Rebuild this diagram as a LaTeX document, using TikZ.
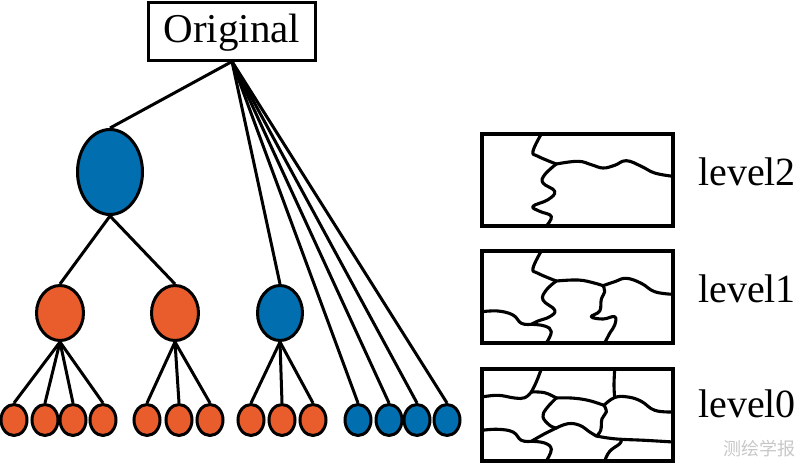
\documentclass[tikz,border=0pt]{standalone}
\usepackage{fontspec}
\setmainfont{Liberation Serif}
\newfontfamily\cjk{Noto Sans CJK SC}
\usetikzlibrary{shapes.geometric}
\definecolor{nodeblue}{RGB}{0,110,175}
\definecolor{nodeorange}{RGB}{233,93,45}
\begin{document}
\begin{tikzpicture}[x=1pt,y=-1pt,
  nd/.style={ellipse, draw=black, line width=3pt, inner sep=0pt},
  bignode/.style={nd, minimum width=65pt, minimum height=85pt},
  midnode/.style={nd, minimum width=47pt, minimum height=55pt},
  leafnode/.style={nd, minimum width=26pt, minimum height=31pt},
  edgeline/.style={line width=3pt},
  panelframe/.style={draw, line width=3.4pt},
  crack/.style={line width=3.1pt, line join=round, line cap=round},
  lvl/.style={font=\fontsize{40}{44}\selectfont, anchor=base west, inner sep=0pt},
  wm/.style={font=\cjk\fontsize{18}{20}\selectfont, text=black!22, inner sep=0pt}]

\useasboundingbox (0,0) rectangle (800,464);

% root box
\node[draw, line width=3pt, minimum width=167pt, minimum height=58pt, inner sep=0pt] (orig) at (232,31) {};
\node[font=\fontsize{41}{44}\selectfont, anchor=base, inner sep=0pt] (origtext) at (232,42) {Original};

% tree nodes
\node[bignode, fill=nodeblue] (b0) at (110,172) {};
\node[midnode, fill=nodeorange] (o1) at (60,313) {};
\node[midnode, fill=nodeorange] (o2) at (175,313) {};
\node[midnode, fill=nodeblue, minimum width=45pt] (b1) at (280,313) {};

\foreach \n/\x in {a1/14,a2/45,a3/73,a4/103,c1/147,c2/179,c3/210,d1/251,d2/282,d3/313}
  \node[leafnode, fill=nodeorange] (\n) at (\x,420) {};
\foreach \n/\x in {e1/358,e2/389,e3/417,e4/447}
  \node[leafnode, fill=nodeblue] (\n) at (\x,420) {};

% edges
\foreach \t in {b0,b1,e1,e2,e3,e4}
  \draw[edgeline] (orig.south) -- (\t.north);
\draw[edgeline] (b0.south) -- (o1.north);
\draw[edgeline] (b0.south) -- (o2.north);
\foreach \t in {a1,a2,a3,a4}
  \draw[edgeline] (o1.south) -- (\t.north);
\foreach \t in {c1,c2,c3}
  \draw[edgeline] (o2.south) -- (\t.north);
\foreach \t in {d1,d2,d3}
  \draw[edgeline] (b1.south) -- (\t.north);

% panel level2
\begin{scope}[shift={(482,134)}]
  \draw[panelframe] (0,0) rectangle (191,92);
  \draw[crack] plot[smooth,tension=0.7] coordinates {(59.3,0) (51,17.3) (56,22.3) (74.3,30)};
  \draw[crack] plot[smooth,tension=0.7] coordinates {(74.3,30) (62.7,40.7) (61,49) (72.7,57.3) (66,65.7) (51,72.3) (57.7,77.3) (69.3,82.3) (64.3,92)};
  \draw[crack] plot[smooth,tension=0.7] coordinates {(74.3,30) (96,27.3) (109.3,30.7) (121,34) (132.7,31.3) (144.3,26.7) (159.3,32.3) (172.7,39) (191,42.3)};
\end{scope}

% panel level1
\begin{scope}[shift={(482,251)}]
  \draw[panelframe] (0,0) rectangle (191,92);
  \draw[crack] plot[smooth,tension=0.7] coordinates {(59.3,0) (51,17.3) (56,22.3) (74.3,30)};
  \draw[crack] plot[smooth,tension=0.7] coordinates {(74.3,30) (64.3,39) (61,49) (72.7,59) (67.7,65.7) (56,70) (49.3,73.3)};
  \draw[crack] plot[smooth,tension=0.7] coordinates {(49.3,73.3) (62.7,75) (69.3,80.7) (64.3,92)};
  \draw[crack] plot[smooth,tension=0.7] coordinates {(0,60.7) (16,60) (31,64) (39.3,72.3) (49.3,73.3)};
  \draw[crack] plot[smooth,tension=0.7] coordinates {(74.3,30) (96,29) (111,31.7) (121,34.7)};
  \draw[crack] plot[smooth,tension=0.7] coordinates {(121,34.7) (132.7,30.7) (144.3,27.3) (159.3,32.3) (172.7,40.7) (191,43.3)};
  \draw[crack] plot[smooth,tension=0.7] coordinates {(121,34.7) (122.7,40.7) (119.3,48.3) (117.7,60) (109.3,65.7) (121,68) (132.7,65.7) (132.7,74) (127.7,82.3) (122.7,92)};
\end{scope}

% panel level0
\begin{scope}[shift={(482,369)}]
  \draw[panelframe] (0,0) rectangle (191,92);
  \draw[crack] plot[smooth,tension=0.7] coordinates {(59.3,0) (54.3,13) (49.3,23)};
  \draw[crack] plot[smooth,tension=0.7] coordinates {(0,28) (16,26.3) (32.7,29) (42.7,28.7) (49.3,23)};
  \draw[crack] plot[smooth,tension=0.7] coordinates {(49.3,23) (62.7,23.7) (74.3,29)};
  \draw[crack] plot[smooth,tension=0.7] coordinates {(74.3,29) (89.3,29) (106,31.3) (122,36.3)};
  \draw[crack] plot[smooth,tension=0.7] coordinates {(122,36.3) (132.7,28.5) (146,28) (159.3,32.3) (172.7,41.3) (191,43)};
  \draw[crack] plot[smooth,tension=0.7] coordinates {(132.7,0) (132,16.3) (132.7,28.5)};
  \draw[crack] plot[smooth,tension=0.7] coordinates {(74.3,29) (64.3,39.7) (61,48) (67.7,56.3) (74.3,59)};
  \draw[crack] plot[smooth,tension=0.7] coordinates {(74.3,59) (62.7,64.7) (49.3,72.3)};
  \draw[crack] plot[smooth,tension=0.7] coordinates {(74.3,59) (86,54.7) (97.7,56.3) (107.7,63) (114.3,67)};
  \draw[crack] plot[smooth,tension=0.7] coordinates {(122,36.3) (124.3,43) (120,49.7) (118.7,61.3) (114.3,67)};
  \draw[crack] plot[smooth,tension=0.7] coordinates {(114.3,67) (126,69) (139.3,70.3) (162.7,71.3) (191,73)};
  \draw[crack] plot[smooth,tension=0.7] coordinates {(139.3,70.3) (137.7,74.7) (127.7,82.3) (122.7,92)};
  \draw[crack] plot[smooth,tension=0.7] coordinates {(0,61.3) (16,60.3) (31,63) (39.3,71.3) (49.3,72.3)};
  \draw[crack] plot[smooth,tension=0.7] coordinates {(49.3,72.3) (62.7,74) (69.3,80.3) (64.3,92)};
\end{scope}

% labels
\node[lvl] (lv2) at (698,185) {level2};
\node[lvl] (lv1) at (698,302) {level1};
\node[lvl] (lv0) at (698,417) {level0};

\node[wm] (mark) at (759,449) {测绘学报};
\end{tikzpicture}
\end{document}
